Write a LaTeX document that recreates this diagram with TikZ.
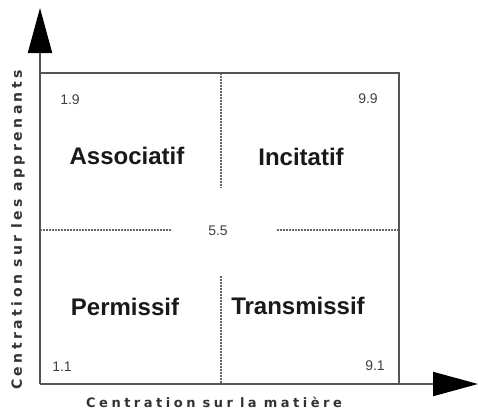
\documentclass[tikz,border=0pt]{standalone}
\usepackage{fontspec}
\setmainfont{Liberation Sans}
\usetikzlibrary{arrows.meta}
\newfontfamily\xaxisfont[LetterSpace=27]{DejaVu Sans Bold}
\newfontfamily\yaxisfont[LetterSpace=25]{DejaVu Sans Bold}
\newcommand{\wgap}{\hspace{7pt}}
\definecolor{framegray}{HTML}{555555}
\definecolor{dashgray}{HTML}{666666}
\begin{document}
\begin{tikzpicture}[x=1pt,y=-1pt,
  axisline/.style={draw=framegray,line width=2pt},
  bigtip/.style={-{Triangle[length=45pt,width=24pt,color=black]}},
  divider/.style={draw=dashgray,line width=1.1pt,dash pattern=on 1.6pt off 1.4pt},
  quadlabel/.style={font=\fontsize{24}{26}\selectfont\bfseries,text=black!90,inner sep=0pt},
  cornerval/.style={font=\fontsize{14}{16}\selectfont,text=black!75,inner sep=0pt},
  axislabel/.style={text=black!80,inner sep=0pt}]
\useasboundingbox (0,0) rectangle (478,412);
% frame corners
\coordinate (O) at (40,384);
\coordinate (TL) at (40,73);
\coordinate (TR) at (399,73);
\coordinate (BR) at (399,384);
\coordinate (ytip) at (40,8);
\coordinate (xtip) at (478,384);
% middle dividers
\coordinate (vtop) at (221,73);
\coordinate (vmid1) at (221,188);
\coordinate (vmid2) at (221,276);
\coordinate (vbot) at (221,384);
\coordinate (hleft) at (40,230);
\coordinate (hmid1) at (172,230);
\coordinate (hmid2) at (277,230);
\coordinate (hright) at (399,230);
% dividers
\draw[divider] (vtop) -- (vmid1);
\draw[divider] (vmid2) -- (vbot);
\draw[divider] (hleft) -- (hmid1);
\draw[divider] (hmid2) -- (hright);
% frame and axes
\draw[axisline] (TL) -- (TR) -- (BR);
\draw[axisline,bigtip] (O) -- (ytip);
\draw[axisline,bigtip] (O) -- (xtip);
% quadrant names
\node[quadlabel] (assoc) at (127,156) {Associatif};
\node[quadlabel] (incit) at (301,157) {Incitatif};
\node[quadlabel] (permis) at (125,307) {Permissif};
\node[quadlabel] (transm) at (298,306) {Transmissif};
% grid values
\node[cornerval] (v19) at (70,100) {1.9};
\node[cornerval] (v99) at (368,99) {9.9};
\node[cornerval] (v55) at (218,231) {5.5};
\node[cornerval] (v11) at (62,367) {1.1};
\node[cornerval] (v91) at (375,366) {9.1};
% axis titles
\node[axislabel,font=\xaxisfont\fontsize{13}{14}\selectfont] (xlab) at (214,402)
  {Centration\wgap sur\wgap la\wgap matière};
\node[axislabel,font=\yaxisfont\fontsize{14}{15}\selectfont,rotate=90] (ylab) at (18,230)
  {Centration\wgap sur\wgap les\wgap apprenants};
\end{tikzpicture}
\end{document}
